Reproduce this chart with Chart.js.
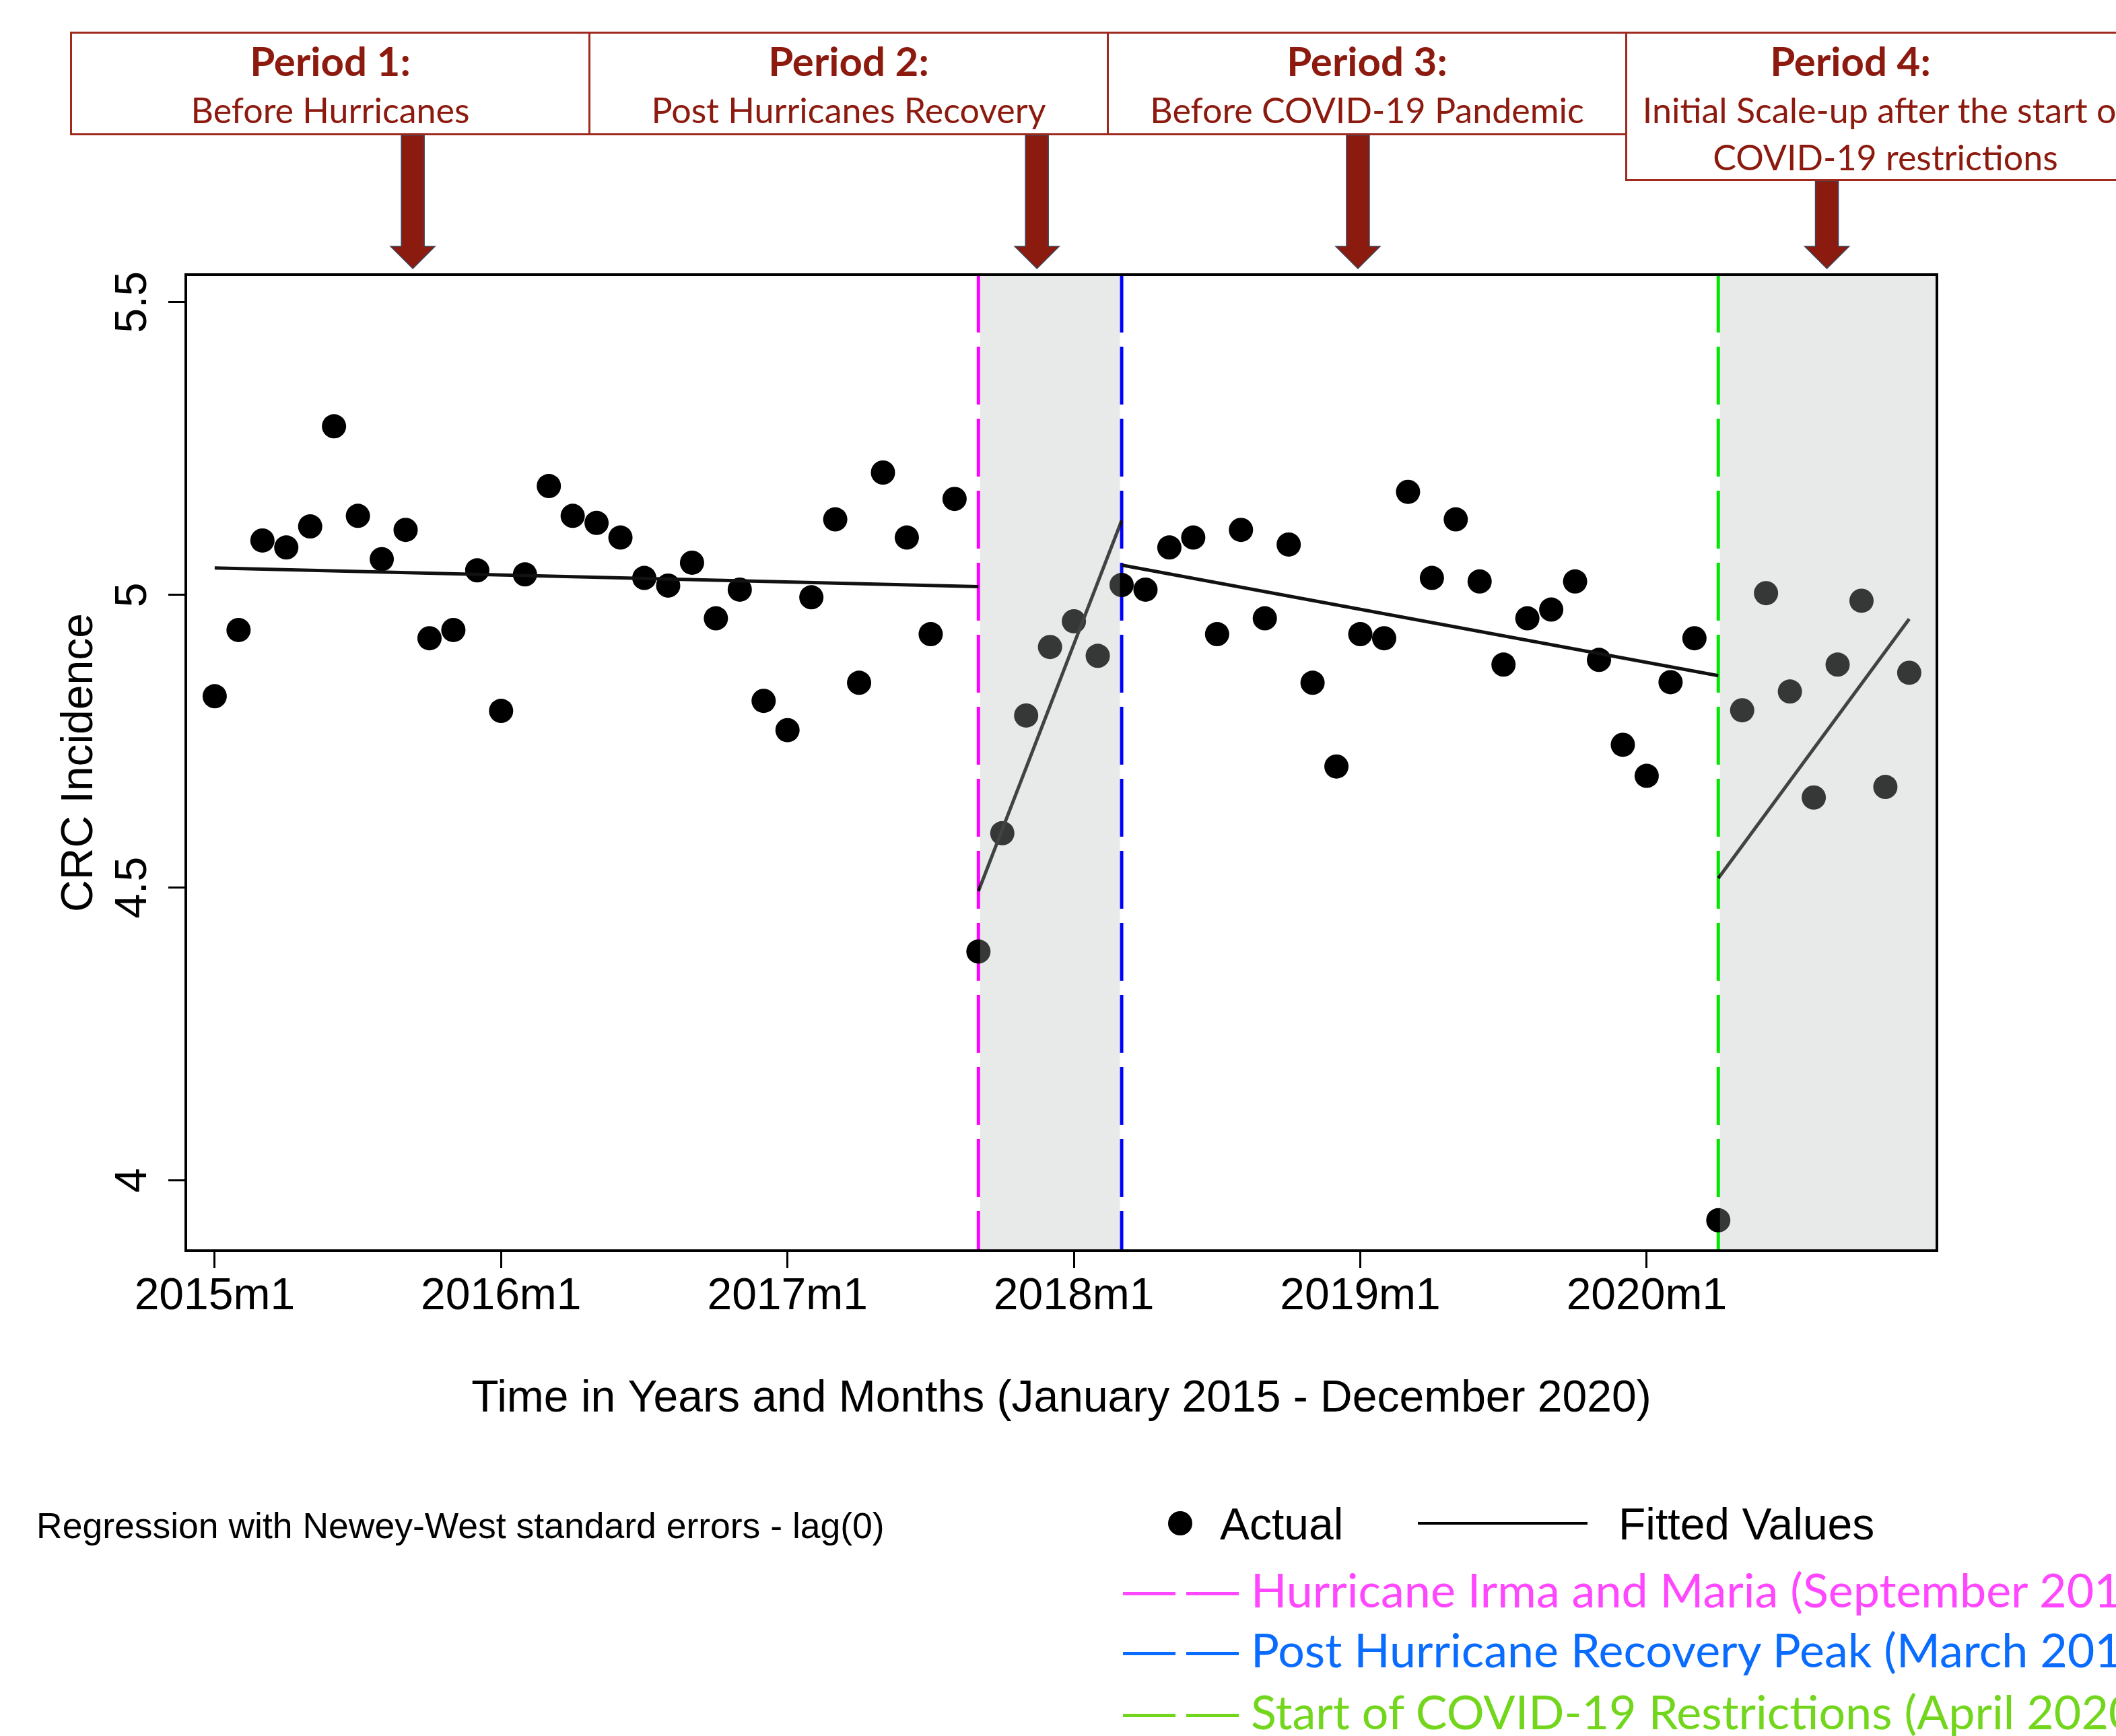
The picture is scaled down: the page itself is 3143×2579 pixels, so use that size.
<!DOCTYPE html>
<html lang="en">
<head>
<meta charset="UTF-8">
<title>CRC Incidence - Interrupted Time Series</title>
<script src="https://cdn.jsdelivr.net/npm/chart.js"></script>
<style>
  body { margin: 0; background: #fff; overflow: hidden; }
  .page { position: relative; width: 3143px; height: 2579px; overflow: hidden; background: #fff; }
  #chart { position: absolute; left: 0; top: 0; }
  .period {
    position: absolute; top: 47px; box-sizing: border-box;
    border: 3px solid #a0291e; background: #fff; color: #8c1a0f;
    font-family: Lato, sans-serif; font-size: 52px; line-height: 70px;
    text-align: center; padding-top: 5px; white-space: nowrap;
  }
  .period b { font-weight: 700; font-size: 60px; position: relative; }
  .txt { position: absolute; white-space: nowrap; }
  .arial { font-family: "Liberation Sans", Arial, sans-serif; color: #000; }
  .calib { font-family: Lato, sans-serif; }
  .mark { position: absolute; }
</style>
</head>
<body>
<div class="page" id="page">
  <canvas id="chart" width="3143" height="2579"></canvas>
</div>

<script>
// ---- data ----
// CRC incidence, one value per month, January 2015 .. December 2020
const actual2015 = [4.827, 4.940, 5.093, 5.081, 5.117, 5.288, 5.135, 5.061, 5.111, 4.926, 4.940, 5.042];
const actual2016 = [4.802, 5.035, 5.186, 5.135, 5.123, 5.098, 5.029, 5.016, 5.055, 4.960, 5.009, 4.819];
const actual2017 = [4.769, 4.996, 5.129, 4.850, 5.209, 5.098, 4.933, 5.164, 4.391, 4.593, 4.794, 4.911];
const actual2018 = [4.955, 4.896, 5.017, 5.009, 5.081, 5.098, 4.933, 5.111, 4.960, 5.086, 4.850, 4.707];
const actual2019 = [4.933, 4.926, 5.176, 5.029, 5.129, 5.023, 4.881, 4.960, 4.975, 5.023, 4.889, 4.744];
const actual2020 = [4.691, 4.851, 4.926, 3.932, 4.803, 5.003, 4.835, 4.654, 4.881, 4.990, 4.672, 4.867];
const actual = [].concat(actual2015, actual2016, actual2017, actual2018, actual2019, actual2020);

// fitted segments (month index counted from 2015m1 = 0)
const fitStartMonth = [0, 32, 38, 63];
const fitEndMonth   = [32, 38, 63, 71];
const fitStartValue = [5.046, 4.494, 5.051, 4.516];
const fitEndValue   = [5.014, 5.127, 4.862, 4.959];

// interventions: 2017m9, 2018m3, 2020m4
const eventMonths = [32, 38, 63];
const eventLabels = [
  'Hurricane Irma and Maria (September 2017)',
  'Post Hurricane Recovery Peak (March 2018)',
  'Start of COVID-19 Restrictions (April 2020)'
];

const xTickValues = [0, 12, 24, 36, 48, 60];
const xTickLabels = ['2015m1', '2016m1', '2017m1', '2018m1', '2019m1', '2020m1'];
const yTickValues = [4, 4.5, 5, 5.5];
const yTickLabels = ['4', '4.5', '5', '5.5'];

const periodTitles = ['Period 1:', 'Period 2:', 'Period 3:', 'Period 4:'];
const periodTexts = [
  ['Before Hurricanes'],
  ['Post Hurricanes Recovery'],
  ['Before COVID-19 Pandemic'],
  ['Initial Scale-up after the start of', 'COVID-19 restrictions']
];

// ---- layout / style ----
const eventLineColors = ['#ff00ff', '#0000ff', '#00e800'];
const eventLegendColors = ['#ff47ff', '#0a6cff', '#72d61c'];
const shadeColor = 'rgba(178, 186, 182, 0.30)';
const arrowMonths = [8.3, 34.45, 47.9, 67.55];
const arrowTops = [201, 201, 201, 269];
const titleShift = [0, 0, 0, -52];
const darkRed = '#8c1b0f';

// period boxes
const page = document.getElementById('page');
periodTitles.forEach((t, i) => {
  const box = document.createElement('div');
  box.className = 'period';
  box.style.left = (104 + i * 770) + 'px';
  box.style.width = '773px';
  box.style.height = (periodTexts[i].length > 1 ? 222 : 154) + 'px';
  box.innerHTML = '<b style="left:' + titleShift[i] + 'px">' + t + '</b><br>' + periodTexts[i].join('<br>');
  page.appendChild(box);
});

// legend + note
function addText(text, cls, left, top, size, color) {
  const d = document.createElement('div');
  d.className = 'txt ' + cls;
  d.textContent = text;
  d.style.left = left + 'px';
  d.style.top = top + 'px';
  d.style.fontSize = size + 'px';
  d.style.lineHeight = size + 'px';
  if (color) d.style.color = color;
  page.appendChild(d);
}
function addMark(left, top, w, h, color, radius) {
  const d = document.createElement('div');
  d.className = 'mark';
  d.style.left = left + 'px'; d.style.top = top + 'px';
  d.style.width = w + 'px'; d.style.height = h + 'px';
  d.style.background = color;
  if (radius) d.style.borderRadius = radius;
  page.appendChild(d);
}
addText('Regression with Newey-West standard errors - lag(0)', 'arial', 54, 2240, 53.5);
addMark(1735, 2245, 36, 36, '#000', '50%');
addText('Actual', 'arial', 1812, 2231, 66);
addMark(2106, 2261, 252, 4, '#000');
addText('Fitted Values', 'arial', 2404, 2231, 66);
const rowY = [2367, 2456, 2548];
eventLabels.forEach((lab, i) => {
  addMark(1668, rowY[i] - 2, 78, 5, eventLegendColors[i]);
  addMark(1762, rowY[i] - 2, 78, 5, eventLegendColors[i]);
  addText(lab, 'calib', 1858, rowY[i] + 21 - 62, 70, eventLegendColors[i]);
});

// ---- chart ----
const decor = {
  id: 'decor',
  beforeDatasetsDraw(chart) {
    const { ctx, chartArea: a, scales: { x } } = chart;
    ctx.save();
    ctx.lineWidth = 5;
    ctx.setLineDash([86, 21]);
    eventMonths.forEach((m, i) => {
      const px = x.getPixelForValue(m);
      ctx.strokeStyle = eventLineColors[i];
      ctx.beginPath();
      ctx.moveTo(px, a.top);
      ctx.lineTo(px, a.bottom);
      ctx.stroke();
    });
    ctx.restore();
  },
  afterDatasetsDraw(chart) {
    const { ctx, chartArea: a, scales: { x } } = chart;
    ctx.save();
    ctx.fillStyle = shadeColor;
    const x1 = x.getPixelForValue(eventMonths[0]) + 2.5;
    const x2 = x.getPixelForValue(eventMonths[1]) - 2.5;
    ctx.fillRect(x1, a.top, x2 - x1, a.bottom - a.top);
    const x3 = x.getPixelForValue(eventMonths[2]) + 2.5;
    ctx.fillRect(x3, a.top, a.right - x3, a.bottom - a.top);
    // frame
    ctx.strokeStyle = '#000';
    ctx.lineWidth = 4;
    ctx.strokeRect(a.left, a.top, a.right - a.left, a.bottom - a.top);
    ctx.restore();
  },
  afterDraw(chart) {
    const { ctx, chartArea: a, scales: { x, y } } = chart;
    ctx.save();
    // rotated y tick labels
    ctx.fillStyle = '#000';
    ctx.font = '66px "Liberation Sans", Arial, sans-serif';
    ctx.textAlign = 'center';
    ctx.textBaseline = 'alphabetic';
    yTickValues.forEach((v, i) => {
      ctx.save();
      ctx.translate(217, y.getPixelForValue(v));
      ctx.rotate(-Math.PI / 2);
      ctx.fillText(yTickLabels[i], 0, 0);
      ctx.restore();
    });
    // arrows from the period boxes
    ctx.fillStyle = darkRed;
    ctx.strokeStyle = '#3b4458';
    ctx.lineWidth = 1.5;
    arrowMonths.forEach((m, i) => {
      const cx = x.getPixelForValue(m);
      const top = arrowTops[i], tip = a.top - 9, headY = tip - 33;
      ctx.beginPath();
      ctx.moveTo(cx - 17, top);
      ctx.lineTo(cx + 17, top);
      ctx.lineTo(cx + 17, headY);
      ctx.lineTo(cx + 33, headY);
      ctx.lineTo(cx, tip);
      ctx.lineTo(cx - 33, headY);
      ctx.lineTo(cx - 17, headY);
      ctx.closePath();
      ctx.fill();
      ctx.stroke();
    });
    ctx.restore();
  }
};

const fitSets = fitStartMonth.map((m, i) => ({
  label: 'Fitted Values',
  data: [{ x: m, y: fitStartValue[i] }, { x: fitEndMonth[i], y: fitEndValue[i] }],
  showLine: true,
  borderColor: '#111',
  borderWidth: 5,
  pointRadius: 0,
  order: 1
}));

const axisFont = { family: '"Liberation Sans", Arial, sans-serif', size: 66 };

new Chart(document.getElementById('chart'), {
  type: 'scatter',
  data: {
    datasets: [{
      label: 'Actual',
      data: actual.map((v, i) => ({ x: i, y: v })),
      pointRadius: 18,
      pointBackgroundColor: '#000',
      pointBorderWidth: 0,
      order: 2
    }].concat(fitSets)
  },
  options: {
    responsive: false,
    devicePixelRatio: 1,
    animation: false,
    layout: { padding: { top: 408, right: 266, bottom: 461, left: 0 } },
    plugins: { legend: { display: false }, tooltip: { enabled: false } },
    scales: {
      x: {
        type: 'linear',
        min: -1.21,
        max: 72.16,
        afterBuildTicks: s => { s.ticks = xTickValues.map(v => ({ value: v })); },
        afterFit: s => { s.height = 260; },
        ticks: {
          autoSkip: false, maxRotation: 0, minRotation: 0, padding: 3,
          color: '#000', font: axisFont,
          callback: v => xTickLabels[xTickValues.indexOf(v)]
        },
        grid: { display: true, drawOnChartArea: false, drawTicks: true, tickLength: 26, tickWidth: 3, tickColor: '#000', color: '#000' },
        border: { display: false },
        title: {
          display: true, text: 'Time in Years and Months (January 2015 - December 2020)',
          color: '#000', font: axisFont, padding: { top: 0, bottom: 0 }
        }
      },
      y: {
        min: 3.88,
        max: 5.547,
        afterBuildTicks: s => { s.ticks = yTickValues.map(v => ({ value: v })); },
        afterFit: s => { s.width = 276; },
        ticks: { display: false },
        grid: { display: true, drawOnChartArea: false, drawTicks: true, tickLength: 26, tickWidth: 3, tickColor: '#000', color: '#000' },
        border: { display: false },
        title: {
          display: true, text: 'CRC Incidence',
          color: '#000', font: axisFont, padding: { top: 79, bottom: 0 }
        }
      }
    }
  },
  plugins: [decor]
});
</script>
</body>
</html>
